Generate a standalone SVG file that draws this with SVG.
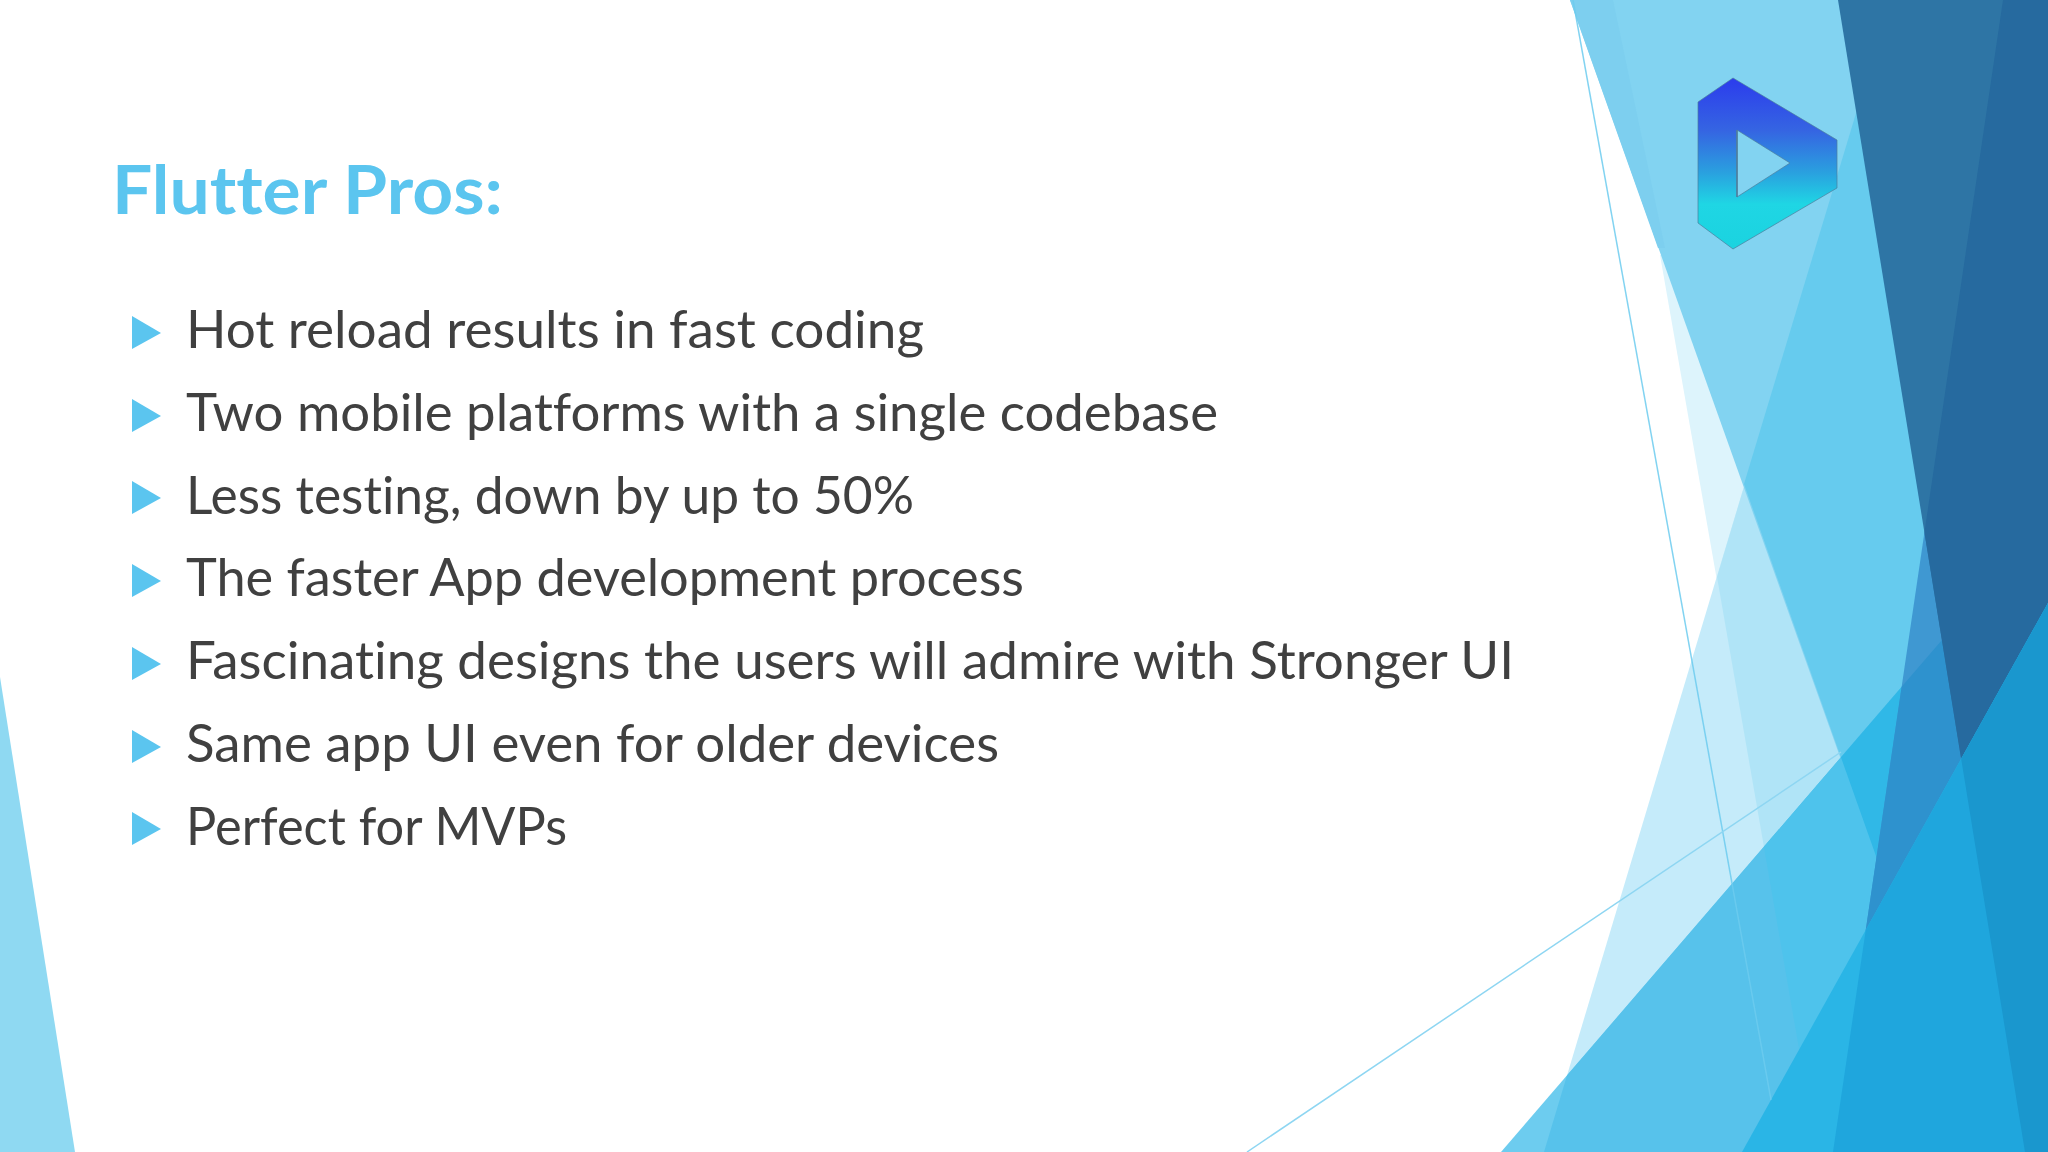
<svg xmlns="http://www.w3.org/2000/svg" width="2048" height="1152" viewBox="0 0 2048 1152">
<style>
.b{font-family:"Lato","Noto Sans",sans-serif;font-size:52px;fill:#404040;font-variant-ligatures:none}
.t{font-family:"Lato","Noto Sans",sans-serif;font-weight:700;font-size:66px;fill:#5BC5EF;font-variant-ligatures:none}
.m{fill:#5BC5EF}
</style>
<defs>
<clipPath id="cD"><polygon points="1501,1152 1942,640 2048,640 2048,1152"/></clipPath>
<clipPath id="cC"><polygon points="2048,603 2048,1152 1742,1152"/></clipPath>
<clipPath id="cA"><polygon points="2003,0 2048,0 2048,1152 1833,1152"/></clipPath>
<linearGradient id="lg" gradientUnits="userSpaceOnUse" x1="0" y1="82" x2="0" y2="245">
<stop offset="0" stop-color="#2C3FEC"/><stop offset=".3" stop-color="#3565E2"/><stop offset=".55" stop-color="#2A9FDF"/><stop offset=".75" stop-color="#1FD6E4"/><stop offset="1" stop-color="#1BD3E0"/>
</linearGradient>
<polygon id="pE" points="1857,110 1544,1152 2048,1152 2048,110"/>
<polygon id="pEG" points="1857,110 1717,577 1817,1152 2048,1152 2048,110"/>
<polygon id="pME" points="1857,110 1744,484 1981,1152 2048,1152 2048,110"/>
<polygon id="pA" points="2003,0 2048,0 2048,1152 1833,1152"/>
<polygon id="pB" points="1838,0 2048,0 2048,1152 2025,1152"/>
</defs>
<rect width="2048" height="1152" fill="#FFFFFF"/>
<polygon points="0,677 75,1152 0,1152" fill="#8FD9F2"/>
<polygon points="1660,255 1817,1152 2048,1152 2048,255" fill="#DDF4FC"/>
<use href="#pE" fill="#C5EBFA"/>
<use href="#pEG" fill="#B0E4F7"/>
<polygon points="1570,0 1981,1152 2048,1152 2048,0" fill="#82D3F1"/>
<polygon points="1570,0 1613,0 1665,248 1658,248" fill="#7DCFEF"/>
<use href="#pME" fill="#66CBEE"/>
<g clip-path="url(#cD)">
<rect x="1500" y="640" width="548" height="512" fill="#6DCCEF"/>
<use href="#pE" fill="#57C2EB"/>
<use href="#pEG" fill="#4EC3EC"/>
<use href="#pME" fill="#30B8E7"/>
</g>
<use href="#pA" fill="#3F98D2"/>
<g clip-path="url(#cA)"><polygon points="1501,1152 1942,640 2048,640 2048,1152" fill="#2E92CE"/></g>
<use href="#pB" fill="#2E75A5"/>
<g clip-path="url(#cA)"><use href="#pB" fill="#266A9F"/></g>
<g clip-path="url(#cC)">
<rect x="1740" y="600" width="308" height="552" fill="#2AB5E6"/>
<use href="#pA" fill="#1FA6DD"/>
<use href="#pB" fill="#1A97CE"/>
</g>
<line x1="1573" y1="0" x2="1771" y2="1100" stroke="#6CCBEE" stroke-width="1.5" stroke-opacity=".85"/>
<line x1="1247" y1="1152" x2="1841" y2="752" stroke="#8ED6F2" stroke-width="1.5"/>
<g id="logo">
<path d="M1733,78 L1837,140 L1837,188 L1733,249 L1698,223 L1698,102 Z M1737,130 L1737,197 L1790,163 Z" fill="url(#lg)" fill-rule="evenodd" stroke="#4B7F9E" stroke-width="1" stroke-opacity=".7"/>
<line x1="1737" y1="130" x2="1737" y2="197" stroke="#4F7F9E" stroke-width="1.6"/>
</g>
<text class="t" x="112" y="214" textLength="391" lengthAdjust="spacingAndGlyphs">Flutter Pros:</text>
<g id="bullets">
<polygon class="m" points="132,316 161,333 132,349"/>
<polygon class="m" points="132,399 161,416 132,432"/>
<polygon class="m" points="132,481 161,498 132,514"/>
<polygon class="m" points="132,564 161,581 132,597"/>
<polygon class="m" points="132,647 161,664 132,680"/>
<polygon class="m" points="132,730 161,747 132,763"/>
<polygon class="m" points="132,812 161,829 132,845"/>
</g>
<text class="b" x="186" y="348" textLength="738" lengthAdjust="spacingAndGlyphs">Hot reload results in fast coding</text>
<text class="b" x="186" y="431" textLength="1032" lengthAdjust="spacingAndGlyphs">Two mobile platforms with a single codebase</text>
<text class="b" x="186" y="514" textLength="728" lengthAdjust="spacingAndGlyphs">Less testing, down by up to 50%</text>
<text class="b" x="186" y="596" textLength="838" lengthAdjust="spacingAndGlyphs">The faster App development process</text>
<text class="b" x="186" y="679" textLength="1328" lengthAdjust="spacingAndGlyphs">Fascinating designs the users will admire with Stronger UI</text>
<text class="b" x="186" y="762" textLength="813" lengthAdjust="spacingAndGlyphs">Same app UI even for older devices</text>
<text class="b" x="186" y="845" textLength="381" lengthAdjust="spacingAndGlyphs">Perfect for MVPs</text>
</svg>
